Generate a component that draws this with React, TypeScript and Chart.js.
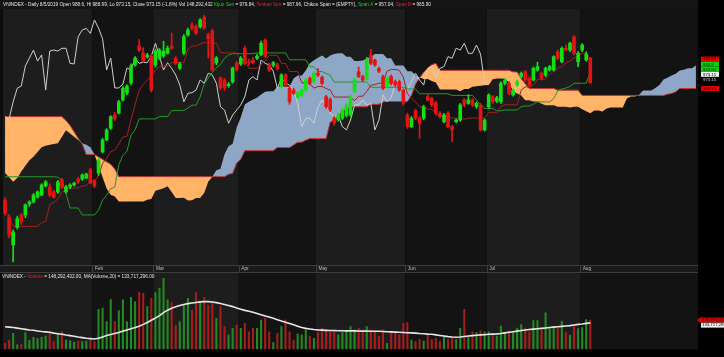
import React, { useEffect, useRef } from 'react';
import { Chart, registerables } from 'chart.js';

Chart.register(...registerables);

// ---------------- data ----------------
const monthNames = ['Feb', 'Mar', 'Apr', 'May', 'Jun', 'Jul', 'Aug'];
const monthStartIndex = [22, 37, 58, 77, 99, 119, 142];
const futurePeriods = 26;

const opens = [
  901.0, 890.4, 873.2, 884.0, 891.7, 891.7, 898.5, 899.7, 902.8, 904.0,
  909.5, 909.0, 905.9, 905.9, 913.3, 905.9, 909.0, 910.2, 913.9, 913.9,
  914.5, 919.5, 912.7, 917.6, 930.6, 938.0, 945.2, 953.4, 954.6, 962.7,
  967.0, 973.2, 984.3, 996.0, 991.7, 989.2, 989.8, 984.3, 988.6, 989.8,
  991.5, 995.6, 988.4, 982.2, 991.5, 1002.8, 1009.0, 1007.9, 1007.9, 1013.7,
  1003.0, 1005.3, 985.5, 976.3, 975.0, 971.5, 973.8, 985.5, 984.9, 994.6,
  986.5, 987.4, 988.4, 990.5, 999.7, 984.3, 984.1, 984.3, 970.9, 978.1,
  969.9, 968.8, 964.3, 965.8, 968.8, 976.1, 974.0, 979.2, 976.7, 964.7,
  963.1, 951.4, 950.3, 951.4, 953.0, 953.4, 967.8, 980.1, 977.1, 976.1,
  990.5, 987.4, 982.0, 977.1, 970.9, 977.1, 974.0, 974.0, 968.8, 953.4,
  946.2, 956.1, 951.4, 951.4, 964.7, 963.7, 961.0, 954.5, 949.3, 954.5,
  946.2, 949.3, 950.3, 962.7, 960.6, 962.7, 958.5, 959.6, 944.2, 958.5,
  964.7, 962.0, 961.6, 973.0, 973.0, 965.8, 972.0, 977.1, 980.1, 976.1,
  975.0, 981.2, 979.2, 978.1, 981.2, 981.2, 992.5, 986.3, 994.6, 993.5,
  1001.7, 986.3, 993.5, 987.4, 988.6,
];
const highs = [
  902.5, 892.0, 882.5, 891.0, 892.5, 898.5, 900.5, 905.0, 906.5, 911.0,
  913.0, 911.0, 907.0, 913.0, 914.5, 910.0, 911.0, 912.0, 915.0, 917.0,
  917.5, 920.5, 913.5, 926.5, 939.0, 945.0, 953.0, 955.0, 962.5, 971.0,
  972.0, 985.0, 989.5, 1000.0, 995.0, 991.5, 991.0, 994.0, 994.5, 999.0,
  996.0, 1004.0, 989.5, 986.0, 1003.0, 1007.0, 1010.5, 1009.0, 1013.0, 1015.0,
  1004.0, 1006.5, 989.5, 977.0, 976.0, 973.5, 983.0, 986.5, 989.5, 996.0,
  988.0, 989.0, 991.0, 999.0, 1000.5, 985.5, 986.5, 985.5, 979.0, 979.0,
  971.0, 970.0, 968.0, 969.5, 976.0, 977.0, 980.0, 982.0, 977.5, 965.5,
  964.0, 952.5, 954.5, 957.5, 960.5, 965.5, 976.0, 983.0, 978.0, 989.0,
  994.0, 988.0, 983.0, 978.0, 977.0, 978.0, 975.0, 975.0, 969.5, 954.5,
  952.5, 957.0, 952.5, 959.5, 966.0, 964.5, 962.0, 955.5, 954.5, 955.5,
  947.0, 951.0, 960.5, 963.5, 966.0, 963.5, 961.5, 960.5, 951.0, 966.5,
  965.5, 965.0, 974.0, 976.0, 974.0, 969.5, 975.0, 980.0, 981.0, 977.0,
  983.0, 986.0, 980.0, 983.0, 984.0, 990.0, 993.5, 995.5, 996.5, 998.5,
  1002.5, 992.5, 997.5, 992.5, 988.99,
];
const lows = [
  891.5, 877.5, 862.7, 883.0, 886.0, 890.0, 897.0, 899.0, 902.0, 903.5,
  909.0, 903.0, 902.0, 905.0, 908.0, 905.0, 908.0, 909.5, 911.0, 913.0,
  914.0, 911.0, 908.5, 916.0, 930.0, 937.5, 944.5, 950.0, 954.0, 962.0,
  966.0, 972.0, 983.5, 992.5, 986.0, 988.5, 967.5, 983.0, 987.5, 989.0,
  991.0, 994.0, 984.5, 981.5, 990.5, 1002.0, 1006.0, 1003.0, 1007.0, 1006.5,
  988.6, 980.5, 984.5, 969.0, 968.5, 970.5, 973.0, 980.5, 984.0, 984.5,
  984.0, 985.0, 987.5, 990.0, 989.0, 980.0, 983.0, 981.0, 970.0, 971.0,
  960.0, 966.0, 963.5, 965.0, 968.0, 972.0, 973.0, 977.0, 972.0, 957.5,
  955.5, 947.0, 949.5, 950.5, 952.0, 952.5, 967.0, 976.5, 974.0, 975.0,
  984.5, 983.5, 979.5, 969.0, 970.0, 972.0, 971.0, 968.0, 959.5, 945.0,
  945.5, 950.5, 939.0, 950.5, 962.0, 958.5, 953.5, 951.5, 948.5, 945.5,
  937.0, 948.5, 949.5, 958.5, 960.0, 958.5, 957.5, 943.5, 943.5, 957.5,
  960.5, 961.0, 960.5, 972.0, 966.0, 965.0, 971.0, 976.0, 974.0, 971.0,
  974.5, 980.5, 975.0, 977.0, 980.5, 980.5, 987.5, 985.5, 993.0, 992.5,
  990.5, 983.3, 992.5, 986.5, 973.15,
];
const closes = [
  892.9, 879.3, 881.2, 889.5, 887.4, 897.9, 899.7, 904.0, 905.9, 910.2,
  912.1, 904.0, 902.8, 912.1, 909.0, 909.0, 910.2, 911.4, 912.1, 916.4,
  917.0, 911.4, 909.5, 925.6, 938.0, 944.2, 952.4, 951.0, 961.6, 969.9,
  971.3, 983.7, 988.6, 993.5, 986.7, 990.5, 968.8, 992.9, 993.5, 992.9,
  994.6, 994.6, 985.3, 984.9, 1001.8, 1005.9, 1006.9, 1003.8, 1012.1, 1007.1,
  1000.5, 981.2, 988.6, 970.1, 970.1, 972.5, 982.4, 981.2, 988.4, 985.3,
  986.0, 985.7, 989.8, 997.7, 989.5, 981.2, 985.7, 982.2, 978.1, 971.9,
  961.6, 966.8, 967.2, 968.8, 975.0, 973.0, 979.2, 978.1, 973.0, 958.5,
  956.5, 948.3, 953.4, 956.5, 959.6, 964.7, 975.0, 977.1, 975.0, 987.4,
  985.3, 984.3, 980.5, 969.9, 976.1, 973.0, 971.9, 968.8, 960.6, 946.2,
  951.4, 951.4, 948.3, 958.5, 962.7, 959.6, 954.5, 952.4, 953.4, 946.2,
  944.2, 950.3, 959.6, 959.6, 962.7, 959.6, 960.6, 944.2, 950.3, 965.8,
  961.6, 964.0, 973.0, 975.0, 966.8, 968.8, 974.0, 979.2, 975.0, 971.9,
  982.2, 983.3, 976.1, 982.2, 983.3, 989.4, 988.4, 994.6, 993.5, 997.7,
  991.5, 991.5, 996.6, 991.0, 973.15,
];

// volume in millions of shares
const volumes = [
  30, 47, 81, 22, 27, 84, 47, 61, 54, 61,
  67, 81, 39, 81, 89, 47, 44, 37, 42, 39,
  42, 47, 39, 202, 208, 140, 253, 140, 196, 250,
  140, 263, 241, 288, 283, 216, 258, 287, 309, 359,
  250, 236, 123, 140, 224, 258, 199, 287, 241, 263,
  224, 241, 157, 216, 115, 73, 106, 123, 106, 132,
  89, 106, 106, 148, 157, 89, 34, 81, 115, 148,
  89, 47, 78, 73, 98, 67, 56, 84, 106, 98,
  89, 94, 73, 84, 94, 115, 98, 106, 98, 115,
  98, 94, 64, 98, 30, 89, 84, 73, 132, 135,
  47, 39, 51, 42, 73, 51, 56, 39, 64, 51,
  56, 51, 106, 202, 61, 89, 84, 94, 89, 89,
  78, 67, 118, 81, 94, 84, 108, 125, 105, 88,
  145, 145, 100, 185, 105, 115, 108, 142, 85, 72,
  115, 105, 110, 150, 148.29,
];
const volumeMA20 = [
  114, 112, 110, 107, 104, 101, 98, 96, 93, 90,
  88, 86, 82, 79, 76, 72, 69, 66, 62, 59,
  56, 54, 52, 56, 62, 70, 75, 80, 85, 92,
  98, 104, 110, 117, 126, 136, 147, 158, 170, 186,
  198, 208, 215, 222, 227, 231, 234, 237, 240, 241,
  241, 239, 236, 232, 227, 222, 216, 209, 203, 197,
  193, 187, 181, 175, 169, 163, 157, 150, 143, 137,
  131, 124, 117, 110, 106, 103, 100, 98, 97, 96,
  95, 95, 94, 94, 93, 93, 93, 92, 92, 92,
  91, 91, 91, 90, 89, 88, 87, 86, 85, 84,
  83, 82, 80, 79, 77, 76, 73, 70, 67, 64,
  62, 61, 62, 65, 67, 69, 71, 73, 74, 76,
  77, 78, 80, 83, 86, 89, 92, 95, 98, 100,
  102, 104, 106, 108, 110, 112, 114, 116, 118, 120,
  123, 126, 128, 131, 133.7,
];

const tenkanSen = [
  893, 891, 884.6, 884.6, 884.6, 884.6, 884.6, 884.6, 884.6, 886.85,
  887.85, 898, 899.5, 901.5, 905.75, 906.75, 908.25, 908.25, 908.5, 909.5,
  909.75, 912.75, 912.75, 915.75, 923.5, 926.75, 930.75, 931.75, 935.5, 939.75,
  940.25, 950.5, 959.75, 968.75, 972.25, 975, 977, 981, 983, 983.75,
  983.75, 985.75, 985.75, 985.75, 985.75, 994.25, 996, 996, 997.25, 998.25,
  998.25, 997.75, 997.75, 992, 991.75, 991.75, 991.75, 991.75, 987.5, 987.5,
  982.25, 982.25, 982.25, 984.75, 986.75, 990.25, 990.25, 990.25, 985.25, 985.25,
  980.25, 980.25, 980.25, 973.25, 973.25, 972.75, 970, 971, 971, 969.75,
  968.75, 964.5, 964.5, 964.5, 964.5, 964.5, 962.25, 965, 965, 968,
  971.75, 972.25, 973, 973.25, 980.5, 981.5, 981.5, 981, 976.75, 966.5,
  964, 961.5, 958.5, 958.5, 957, 957, 954.25, 952.5, 952.5, 952.5,
  951.5, 951.5, 951.5, 950.75, 951.5, 951.5, 951.5, 951.5, 951.5, 955,
  955, 955, 958.75, 959.75, 959.75, 959.75, 959.75, 968.75, 970.75, 970.75,
  971.75, 975.5, 975.5, 975.5, 978.5, 980.5, 982.25, 983.25, 985.5, 986.75,
  988.75, 989.75, 991.5, 991.5, 987.96,
];
const kijunSen = [
  915.3, 915.3, 915.3, 915.3, 915.3, 915.3, 915.3, 915.3, 915.3, 915.3,
  915.3, 915.3, 915.3, 915, 913, 905, 896, 896, 896, 891.7,
  891.7, 891.7, 891.7, 894.6, 900.85, 903.85, 907.85, 908.85, 922.75, 928.5,
  931, 941, 944.25, 951, 951, 951, 951, 951, 952.5, 952.5,
  952.5, 956, 956.25, 956.25, 956.25, 957.75, 959.5, 959.5, 964.5, 972.5,
  976.25, 979.75, 982.5, 984.5, 988.5, 990.5, 991.25, 991.25, 991.25, 991.25,
  991.25, 991.25, 991.75, 991.75, 991.75, 991.75, 991.75, 991.75, 991.75, 991.75,
  987.5, 987.5, 987.5, 987.5, 987.5, 983.25, 983.25, 980.25, 980.25, 979,
  978, 973.75, 973.75, 973.75, 973.75, 973.75, 973.75, 973.75, 973.75, 973.75,
  970.5, 970.5, 970.5, 970.5, 970.5, 970.5, 970.5, 970.5, 970.5, 969.5,
  969.5, 969.5, 966.5, 966.5, 966.5, 966.5, 966.5, 966.5, 966.5, 966.5,
  965.5, 965.5, 965.5, 965.5, 965.5, 965.5, 962.5, 960, 957.5, 957.5,
  957.5, 956, 956, 956.5, 956.5, 956.5, 956.5, 958.5, 959, 959,
  960, 961.5, 961.5, 961.5, 961.5, 963.5, 968.5, 969.5, 970, 971,
  973, 973, 973, 973, 979.84,
];
const senkouSpanA = [
  917.6, 915, 912.2, 914.5, 918.5, 922, 925.5, 927.7, 930.5, 933.5,
  934.5, 935, 935.5, 936, 940, 944, 942, 940, 938, 936,
  935, 933.5, 929, 922, 915, 908,
  904.15, 903.15, 899.95, 899.95, 899.95, 899.95, 899.95, 899.95, 899.95, 901.1,
  901.6, 906.65, 907.4, 908.25, 909.4, 905.9, 902.1, 902.1, 902.25, 900.6,
  900.7, 902.2, 902.2, 905.2, 912.2, 915.3, 919.3, 920.3, 929.1, 934.1,
  935.6, 945.75, 952, 959.9, 961.6, 963, 964, 966, 967.75, 968.1,
  968.1, 970.9, 971, 971, 971, 976, 977.75, 977.75, 980.9, 985.4,
  987.25, 988.75, 990.1, 988.25, 990.1, 991.1, 991.5, 991.5, 989.4, 989.4,
  986.75, 986.75, 987, 988.25, 989.25, 991, 991, 991, 988.5, 988.5,
  983.9, 983.9, 983.9, 980.4, 980.4, 978, 976.6, 975.6, 975.6, 974.4,
  973.4, 969.1, 969.1, 969.1, 969.1, 969.1, 968, 969.4, 969.4, 970.9,
  971.1, 971.4, 971.75, 971.9, 975.5, 976, 976, 975.75, 973.6, 968,
  966.75, 965.5, 962.5, 962.5, 961.75, 961.75, 960.4, 959.5, 959.5, 959.5,
  958.5, 958.5, 958.5, 958.1, 958.5, 958.5, 957, 955.75, 954.5, 956.25,
  956.25, 955.5, 957.4, 958.1, 958.1, 958.1, 958.1, 963.6, 964.9, 964.9,
  965.9, 968.5, 968.5, 968.5, 970, 972, 975.4, 976.4, 977.75, 978.9,
  980.9, 981.4, 982.25, 982.25, 983.9,
];
const senkouSpanB = [
  952.4, 952.4, 952.4, 952.4, 952.4, 952.4, 952.4, 952.4, 952.4, 952.4,
  952.4, 952.4, 952.4, 952.4, 952.4, 950, 947, 943, 939, 935.5,
  929, 929, 929, 927.5, 926, 924.5, 923, 920, 915.35, 915.35,
  915.35, 915.35, 915.35, 915.35, 915.35, 915.35, 915.35, 915.35, 915.35, 915.35,
  915.35, 915.35, 915.35, 915.35, 915.35, 915.35, 915.35, 915.35, 915.35, 915.35,
  915.35, 915.35, 915.35, 915.35, 915.35, 916.85, 917.35, 923.85, 926.1, 931.35,
  931.35, 931.35, 931.35, 931.35, 931.35, 931.35, 931.35, 933.35, 933.35, 933.35,
  933.35, 934.85, 936.6, 936.6, 937.85, 938.85, 938.85, 938.85, 938.85, 938.85,
  949, 950.5, 952.5, 956, 957, 958.5, 958.5, 958.5, 958.5, 958.5,
  960, 960, 960, 961.5, 961.75, 961.75, 961.75, 961.75, 961.75, 961.75,
  965.5, 972.5, 976.25, 979.75, 982.5, 984.5, 985.25, 981, 981, 981,
  981, 981, 981, 981, 981, 981, 981, 981, 981, 981,
  981, 981, 981, 981, 981, 980, 980, 975.75, 972.75, 969.75,
  969.75, 969.75, 969.75, 969.75, 969.75, 969.75, 968.75, 968.75, 968.75, 968.75,
  968.75, 968.75, 965.5, 965.5, 965.5, 965.5, 965.5, 965.5, 965.5, 965.5,
  965.5, 965.5, 965.5, 965.5, 965.5, 965.5, 965.5, 965.5, 965.5, 965.5,
  965.5, 965.5, 965.5, 966.25, 966.75, 967.75, 969.75, 969.75, 969.75, 969.75,
  969.75,
];

const priceTagValues = [987.96, 983.9, 979.84, 973.15, 973.15, 969.75];
const priceTagTexts = ['987.96', '983.9', '979.84', '973.15', '973.15', '969.75'];
const volumeTagTexts = ['148,292,432', '133,717,296'];

const headerMain: [string, string][] = [
  ['VNINDEX - Daily 8/5/2019 Open 988.6, Hi 988.99, Lo 973.15, Close 973.15 (-1.8%) Vol 148,292,432 ', 'w'],
  ['Kijun Sen', 'g'],
  [' = 979.84, ', 'w'],
  ['Tenkan Sen', 'r'],
  [' = 987.96, Chikou Span = (EMPTY), ', 'w'],
  ['Span A', 'g'],
  [' = 957.04, ', 'w'],
  ['Span B', 'r'],
  [' = 965.90', 'w'],
];
const headerVolume: [string, string][] = [
  ['VNINDEX - ', 'w'],
  ['Volume', 'r'],
  [' = 148,292,432.00, MA(Volume,20) = 133,717,296.00', 'w'],
];

// ---------------- styling ----------------
const FONT = '"Liberation Sans", Arial, sans-serif';
const BAND_LIGHT = '#1d1d1d';
const BAND_DARK = '#131313';
const UP = '#12e012';
const DOWN = '#e41414';
const CLOUD_BLUE = '#8ea7c6';
const CLOUD_ORANGE = '#ffb468';
const TEXT_COLORS: Record<string, string> = { w: '#e6e6e6', g: '#20d020', r: '#e02020' };

const nSlots = opens.length + futurePeriods;
const slotLabels = Array.from({ length: nSlots }, (_, i) => String(i));
const candleColors = opens.map((o, i) => (closes[i] >= o ? UP : DOWN));
const volumeColors = opens.map((o, i) => (closes[i] >= o ? '#238a23' : '#a81c1c'));
const chikouSpan = closes.slice(futurePeriods);

function bandEdges(chart: any): number[] {
  const a = chart.chartArea;
  const x = chart.scales.x;
  const half = (x.getPixelForValue(1) - x.getPixelForValue(0)) / 2;
  return [a.left, ...monthStartIndex.map((m) => x.getPixelForValue(m) - half), a.right];
}

function drawBands(ctx: CanvasRenderingContext2D, edges: number[], top: number, bottom: number) {
  for (let k = 0; k < edges.length - 1; k++) {
    ctx.fillStyle = k % 2 === 0 ? BAND_LIGHT : BAND_DARK;
    ctx.fillRect(edges[k], top, edges[k + 1] - edges[k], bottom - top);
  }
}

function drawSegments(ctx: CanvasRenderingContext2D, segs: [string, string][], x: number, y: number, width: number) {
  ctx.font = `10px ${FONT}`;
  const total = segs.reduce((s, [t]) => s + ctx.measureText(t).width, 0);
  const size = (10 * width) / total;
  ctx.font = `${size}px ${FONT}`;
  ctx.textBaseline = 'middle';
  ctx.textAlign = 'left';
  let cx = x;
  for (const [t, c] of segs) {
    ctx.fillStyle = TEXT_COLORS[c];
    ctx.fillText(t, cx, y);
    cx += ctx.measureText(t).width;
  }
}

const mainDecor = {
  id: 'mainDecor',
  beforeDraw(chart: any) {
    const { ctx, chartArea: a } = chart;
    ctx.save();
    ctx.fillStyle = '#000';
    ctx.fillRect(0, 0, chart.width, chart.height);
    ctx.fillStyle = '#141414';
    ctx.fillRect(0, 0, a.right, a.top);
    ctx.fillStyle = '#0d0d0d';
    ctx.fillRect(0, a.top, a.left, a.bottom - a.top);
    const edges = bandEdges(chart);
    drawBands(ctx, edges, a.top, a.bottom);
    // month label strip
    ctx.fillStyle = '#1a1a1a';
    ctx.fillRect(0, a.bottom, a.right, chart.height - a.bottom);
    ctx.fillStyle = '#3d3d3d';
    ctx.fillRect(0, a.bottom, a.right, 1);
    ctx.fillRect(0, chart.height - 1, a.right, 1);
    for (let k = 1; k < edges.length - 1; k++) ctx.fillRect(Math.round(edges[k]), a.bottom, 1, chart.height - a.bottom);
    ctx.restore();
  },
  afterDraw(chart: any) {
    const { ctx, chartArea: a, scales } = chart;
    ctx.save();
    drawSegments(ctx, headerMain, 3, 4.5, 429);
    const edges = bandEdges(chart);
    ctx.font = `4.8px ${FONT}`;
    ctx.textBaseline = 'middle';
    ctx.textAlign = 'left';
    ctx.fillStyle = '#bdbdbd';
    monthNames.forEach((m, k) => ctx.fillText(m, edges[k + 1] + 2.5, (a.bottom + chart.height) / 2));
    // right price tags
    const styles = [
      { bg: '#e00000', fg: '#3a0000' },
      { bg: '#10d010', fg: '#002a00' },
      { bg: '#10d010', fg: '#002a00' },
      { bg: '#f0f0f0', fg: '#000' },
      { bg: '', fg: '#d8d8d8' },
      { bg: '#e00000', fg: '#3a0000' },
    ];
    const y0 = scales.y.getPixelForValue(priceTagValues[0]);
    ctx.font = `4.3px ${FONT}`;
    priceTagValues.forEach((v, k) => {
      const yc = k < 5 ? y0 + k * 5.1 : scales.y.getPixelForValue(v);
      const st = styles[k];
      if (st.bg) {
        ctx.fillStyle = st.bg;
        ctx.fillRect(a.right + 3, yc - 2.5, 18, 5);
      }
      ctx.fillStyle = st.fg;
      ctx.fillText(priceTagTexts[k], a.right + 5, yc + 0.2);
    });
    ctx.restore();
  },
};

const volDecor = {
  id: 'volDecor',
  beforeDraw(chart: any) {
    const { ctx, chartArea: a } = chart;
    ctx.save();
    ctx.fillStyle = '#000';
    ctx.fillRect(0, 0, chart.width, chart.height);
    ctx.fillStyle = '#0d0d0d';
    ctx.fillRect(0, 0, a.left, a.bottom);
    drawBands(ctx, bandEdges(chart), 0, a.bottom);
    ctx.restore();
  },
  afterDraw(chart: any) {
    const { ctx, chartArea: a, scales } = chart;
    ctx.save();
    drawSegments(ctx, headerVolume, 2, 3.5, 153);
    const yr = scales.y.getPixelForValue(volumes[volumes.length - 1]);
    ctx.fillStyle = '#e00000';
    ctx.beginPath();
    ctx.moveTo(a.right - 1, yr);
    ctx.lineTo(a.right + 2, yr - 2.6);
    ctx.lineTo(chart.width, yr - 2.6);
    ctx.lineTo(chart.width, yr + 2.6);
    ctx.lineTo(a.right + 2, yr + 2.6);
    ctx.closePath();
    ctx.fill();
    ctx.fillStyle = '#f0f0f0';
    ctx.fillRect(a.right + 3, yr + 2.8, chart.width - a.right - 3, 4.8);
    ctx.font = `4.3px ${FONT}`;
    ctx.textBaseline = 'middle';
    ctx.textAlign = 'left';
    ctx.fillStyle = '#3a0000';
    ctx.fillText(volumeTagTexts[0], a.right + 4, yr + 0.2);
    ctx.fillStyle = '#000';
    ctx.fillText(volumeTagTexts[1], a.right + 4, yr + 5.3);
    ctx.restore();
  },
};

export default function App() {
  const mainRef = useRef<HTMLCanvasElement>(null);
  const volRef = useRef<HTMLCanvasElement>(null);

  useEffect(() => {
    document.body.style.margin = '0';
    document.body.style.background = '#000';
    const xScale = { type: 'category', display: false, offset: true, grid: { display: false } };
    const main = new Chart(mainRef.current as HTMLCanvasElement, {
      type: 'bar',
      data: {
        labels: slotLabels,
        datasets: [
          {
            type: 'line', label: 'Span A', data: senkouSpanA, borderWidth: 0, borderColor: 'rgba(0,0,0,0)',
            pointRadius: 0, fill: { target: 1, above: CLOUD_BLUE, below: CLOUD_ORANGE }, order: 7,
          },
          { type: 'line', label: 'Span B', data: senkouSpanB, borderWidth: 1, borderColor: '#c0363a', pointRadius: 0, fill: false, order: 6 },
          { type: 'line', label: 'Chikou', data: chikouSpan, borderWidth: 1, borderColor: '#cfcfcf', pointRadius: 0, fill: false, order: 5 },
          { type: 'line', label: 'Kijun', data: kijunSen, borderWidth: 1, borderColor: '#2b962b', pointRadius: 0, fill: false, order: 4 },
          { type: 'line', label: 'Tenkan', data: tenkanSen, borderWidth: 1, borderColor: '#a61f1f', pointRadius: 0, fill: false, order: 3 },
          {
            type: 'bar', label: 'Wick', data: lows.map((l, i) => [l, highs[i]]), backgroundColor: candleColors,
            barThickness: 1, grouped: false, borderWidth: 0, order: 2,
          },
          {
            type: 'bar', label: 'Body', data: opens.map((o, i) => [o, closes[i]]), backgroundColor: candleColors,
            barThickness: 3, grouped: false, borderWidth: 0, order: 1,
          },
        ] as any,
      },
      options: {
        responsive: false,
        maintainAspectRatio: false,
        animation: false,
        events: [],
        layout: { padding: { left: 3, right: 26, top: 9, bottom: 8 } },
        plugins: { legend: { display: false }, tooltip: { enabled: false } },
        elements: { line: { tension: 0 }, point: { radius: 0 } },
        scales: {
          x: xScale as any,
          y: { display: false, min: 860.8, max: 1018.85 },
        },
      },
      plugins: [mainDecor],
    });

    const vol = new Chart(volRef.current as HTMLCanvasElement, {
      type: 'bar',
      data: {
        labels: slotLabels,
        datasets: [
          { type: 'line', label: 'MA20', data: volumeMA20, borderWidth: 1.6, borderColor: '#e6e6e6', pointRadius: 0, fill: false, order: 1 },
          { type: 'bar', label: 'Volume', data: volumes, backgroundColor: volumeColors, barThickness: 1.4, borderWidth: 0, order: 2 },
        ] as any,
      },
      options: {
        responsive: false,
        maintainAspectRatio: false,
        animation: false,
        events: [],
        layout: { padding: { left: 3, right: 26, top: 1, bottom: 7.7 } },
        plugins: { legend: { display: false }, tooltip: { enabled: false } },
        elements: { line: { tension: 0 }, point: { radius: 0 } },
        scales: {
          x: xScale as any,
          y: { display: false, min: 0, max: 381 },
        },
      },
      plugins: [volDecor],
    });

    return () => {
      main.destroy();
      vol.destroy();
    };
  }, []);

  return (
    <div style={{ position: 'relative', width: 724, height: 357, background: '#000', overflow: 'hidden' }}>
      <canvas ref={mainRef} width={724} height={273} style={{ position: 'absolute', left: 0, top: 0, width: 724, height: 273 }} />
      <canvas ref={volRef} width={724} height={84} style={{ position: 'absolute', left: 0, top: 273, width: 724, height: 84 }} />
    </div>
  );
}
